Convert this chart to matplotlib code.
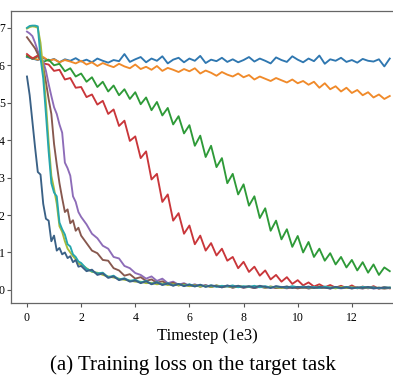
import numpy as np
import matplotlib
matplotlib.use("Agg")
import matplotlib.pyplot as plt

plt.rcParams["font.family"] = ["Liberation Serif", "DejaVu Serif"]

# timestep grids (1e3 steps)
T_SLOW = np.round(np.arange(0.0, 13.41, 0.2), 1)
T_FAST = np.round(np.concatenate([np.arange(0.0, 2.01, 0.1), np.arange(2.2, 13.41, 0.2)]), 1)

# series
loss_blue = [
    6.22, 6.18, 6.14, 6.20, 6.12, 6.17, 6.08, 6.16, 6.12, 6.19,
    6.10, 6.15, 6.08, 6.18, 6.12, 6.07, 6.14, 6.11, 6.30, 6.09,
    6.16, 6.22, 6.08, 6.18, 6.12, 6.24, 6.05, 6.15, 6.20, 6.08,
    6.18, 6.12, 6.25, 6.06, 6.15, 6.11, 6.20, 6.09, 6.16, 6.08,
    6.14, 6.22, 6.10, 6.18, 6.12, 6.05, 6.21, 6.14, 6.09, 6.24,
    6.15, 6.08, 6.18, 6.11, 6.26, 6.04, 6.16, 6.12, 6.20, 6.09,
    6.14, 6.07, 6.17, 6.12, 6.10, 6.16, 5.97, 6.18,
]
loss_orange = [
    6.25, 6.20, 6.15, 6.22, 6.12, 6.16, 6.08, 6.14, 6.10, 6.05,
    6.12, 6.02, 6.08, 5.98, 6.06, 6.00, 5.95, 6.04, 5.97, 5.92,
    6.02, 5.90, 5.96, 5.88, 5.98, 5.85, 5.93, 5.88, 5.82, 5.90,
    5.84, 5.92, 5.78, 5.86, 5.80, 5.72, 5.82, 5.75, 5.70, 5.78,
    5.68, 5.74, 5.62, 5.70, 5.64, 5.58, 5.66, 5.60, 5.54, 5.62,
    5.52, 5.58, 5.48, 5.56, 5.40, 5.52, 5.36, 5.44, 5.30, 5.40,
    5.26, 5.34, 5.20, 5.28, 5.14, 5.22, 5.10, 5.18,
]
loss_green = [
    6.25, 6.17, 6.24, 6.09, 6.15, 6.00, 6.04, 5.84, 5.92, 5.70,
    5.78, 5.56, 5.68, 5.42, 5.56, 5.30, 5.46, 5.20, 5.36, 5.10,
    5.28, 4.96, 5.14, 4.80, 5.02, 4.66, 4.86, 4.42, 4.64, 4.18,
    4.40, 3.85, 4.12, 3.55, 3.85, 3.28, 3.52, 2.85, 3.10, 2.55,
    2.82, 2.25, 2.50, 1.92, 2.18, 1.58, 1.85, 1.35, 1.62, 1.15,
    1.44, 1.00, 1.28, 0.88, 1.10, 0.78, 0.98, 0.68, 0.88, 0.60,
    0.80, 0.52, 0.74, 0.46, 0.68, 0.40, 0.60, 0.50,
]
loss_red = [
    6.30, 6.18, 6.26, 6.05, 6.02, 5.85, 5.88, 5.62, 5.66, 5.40,
    5.42, 5.15, 5.22, 4.95, 5.05, 4.70, 4.82, 4.38, 4.52, 3.98,
    4.10, 3.52, 3.70, 2.95, 3.10, 2.35, 2.55, 1.85, 2.05, 1.50,
    1.72, 1.22, 1.45, 1.05, 1.25, 0.92, 1.10, 0.78, 0.88, 0.58,
    0.75, 0.48, 0.62, 0.38, 0.52, 0.28, 0.40, 0.22, 0.34, 0.16,
    0.26, 0.12, 0.20, 0.09, 0.15, 0.07, 0.13, 0.06, 0.11, 0.05,
    0.12, 0.04, 0.09, 0.04, 0.10, 0.03, 0.08, 0.04,
]
loss_purple = [
    6.90, 6.85, 6.78, 6.60, 6.38, 6.25, 6.10, 5.85, 5.50, 5.18, 4.88,
    4.70, 4.42, 4.20, 3.40, 3.25, 3.05, 2.50, 2.35, 2.08, 1.95,
    1.75, 1.50, 1.38, 1.18, 1.10, 0.88, 0.84, 0.64, 0.58, 0.45,
    0.40, 0.30, 0.36, 0.24, 0.30, 0.18, 0.22, 0.14, 0.18, 0.11,
    0.15, 0.09, 0.13, 0.08, 0.12, 0.07, 0.11, 0.06, 0.10, 0.06,
    0.09, 0.05, 0.08, 0.06, 0.09, 0.05, 0.07, 0.04, 0.08, 0.05,
    0.07, 0.04, 0.06, 0.05, 0.07, 0.04, 0.06, 0.04, 0.06, 0.05,
    0.05, 0.04, 0.06, 0.04, 0.05, 0.04, 0.05,
]
loss_brown = [
    6.75, 6.65, 6.55, 6.45, 6.30, 6.20, 5.95, 5.55, 5.10, 4.70, 3.90,
    3.35, 2.85, 2.45, 2.08, 2.15, 1.78, 1.86, 1.58, 1.66, 1.45,
    1.25, 1.05, 0.98, 0.80, 0.78, 0.58, 0.52, 0.38, 0.42, 0.30,
    0.34, 0.24, 0.28, 0.19, 0.23, 0.15, 0.19, 0.12, 0.16, 0.10,
    0.13, 0.09, 0.12, 0.08, 0.11, 0.07, 0.10, 0.06, 0.09, 0.06,
    0.08, 0.05, 0.09, 0.06, 0.08, 0.05, 0.07, 0.05, 0.07, 0.04,
    0.07, 0.04, 0.06, 0.05, 0.06, 0.04, 0.07, 0.05, 0.06, 0.04,
    0.06, 0.04, 0.07, 0.05, 0.05, 0.04, 0.05,
]
loss_olive = [
    6.98, 7.02, 7.04, 7.03, 7.00, 6.60, 5.90, 5.00, 3.95, 3.05, 2.70,
    2.30, 1.70, 1.55, 1.30, 1.10, 1.00, 0.90, 0.82, 0.70, 0.68,
    0.58, 0.48, 0.46, 0.40, 0.36, 0.33, 0.30, 0.27, 0.25, 0.22,
    0.22, 0.18, 0.19, 0.15, 0.17, 0.13, 0.15, 0.12, 0.14, 0.10,
    0.12, 0.09, 0.11, 0.08, 0.12, 0.09, 0.10, 0.07, 0.11, 0.08,
    0.09, 0.07, 0.10, 0.06, 0.09, 0.07, 0.05, 0.09, 0.06, 0.08,
    0.06, 0.08, 0.05, 0.09, 0.06, 0.07, 0.04, 0.08, 0.05, 0.07,
    0.06, 0.05, 0.07, 0.05, 0.06, 0.04, 0.06,
]
loss_teal = [
    7.00, 7.05, 7.06, 7.06, 7.04, 6.20, 5.65, 4.70, 3.70, 2.85, 2.60,
    2.50, 1.80, 1.62, 1.48, 1.22, 1.16, 0.95, 0.88, 0.76, 0.72,
    0.56, 0.50, 0.44, 0.46, 0.34, 0.38, 0.28, 0.31, 0.24, 0.27,
    0.20, 0.24, 0.16, 0.21, 0.14, 0.18, 0.12, 0.16, 0.11, 0.15,
    0.10, 0.13, 0.09, 0.12, 0.08, 0.11, 0.09, 0.12, 0.07, 0.10,
    0.08, 0.11, 0.07, 0.10, 0.06, 0.09, 0.08, 0.06, 0.10, 0.07,
    0.09, 0.06, 0.08, 0.05, 0.09, 0.06, 0.07, 0.05, 0.08, 0.06,
    0.05, 0.08, 0.06, 0.07, 0.04, 0.07, 0.06,
]
loss_slate = [
    5.70, 5.20, 4.50, 3.80, 3.15, 3.08, 2.30, 1.90, 1.85, 1.30, 1.45,
    1.05, 1.12, 0.95, 1.00, 0.85, 0.90, 0.74, 0.80, 0.62, 0.64,
    0.50, 0.54, 0.40, 0.44, 0.32, 0.36, 0.26, 0.30, 0.22, 0.25,
    0.18, 0.23, 0.15, 0.20, 0.13, 0.17, 0.11, 0.16, 0.10, 0.14,
    0.09, 0.14, 0.08, 0.12, 0.10, 0.07, 0.12, 0.08, 0.11, 0.07,
    0.10, 0.06, 0.11, 0.08, 0.05, 0.10, 0.07, 0.09, 0.05, 0.08,
    0.06, 0.09, 0.05, 0.08, 0.06, 0.04, 0.08, 0.05, 0.07, 0.04,
    0.07, 0.05, 0.08, 0.04, 0.06, 0.05, 0.06,
]

X_TICKS = [0, 2, 4, 6, 8, 10, 12]
Y_TICKS = [0, 1, 2, 3, 4, 5, 6, 7]


def main():
    fig = plt.figure(figsize=(3.93, 3.90), dpi=100)
    # right edge runs past the figure, as in the cropped original
    ax = fig.add_axes([11 / 393, 87 / 390, 395 / 393, 292 / 390])

    slow = [
        (loss_blue, "#2f77b0"),
        (loss_orange, "#f08a2a"),
        (loss_green, "#2e9a38"),
        (loss_red, "#c9363a"),
    ]
    fast = [
        (loss_purple, "#8d6cb8"),
        (loss_brown, "#87584e"),
        (loss_olive, "#a6bb3a"),
        (loss_teal, "#26a6ad"),
        (loss_slate, "#3a6186"),
    ]
    for values, color in slow:
        ax.plot(T_SLOW, values, color=color, linewidth=1.35)
    for values, color in fast:
        ax.plot(T_FAST, values, color=color, linewidth=1.35)

    ax.set_xlim(-0.59, 14.0)
    ax.set_ylim(-0.35, 7.45)
    ax.set_xticks(X_TICKS)
    ax.set_yticks(Y_TICKS)
    ax.set_yticklabels([str(v) for v in Y_TICKS])
    ax.tick_params(axis="both", labelsize=8.5, length=3, width=0.8, color="#555555")
    ax.tick_params(axis="y", pad=1.5)
    for spine in ax.spines.values():
        spine.set_color("#666666")
        spine.set_linewidth(0.9)

    ax.set_xlabel("Timestep (1e3)", fontsize=12)
    ax.xaxis.set_label_coords((210 - 11) / 401, -0.085)

    fig.text(0.492, 0.064, "(a) Training loss on the target task",
             ha="center", va="center", fontsize=15)

    fig.savefig("out.png", dpi=100)
    plt.close(fig)


if __name__ == "__main__":
    main()
